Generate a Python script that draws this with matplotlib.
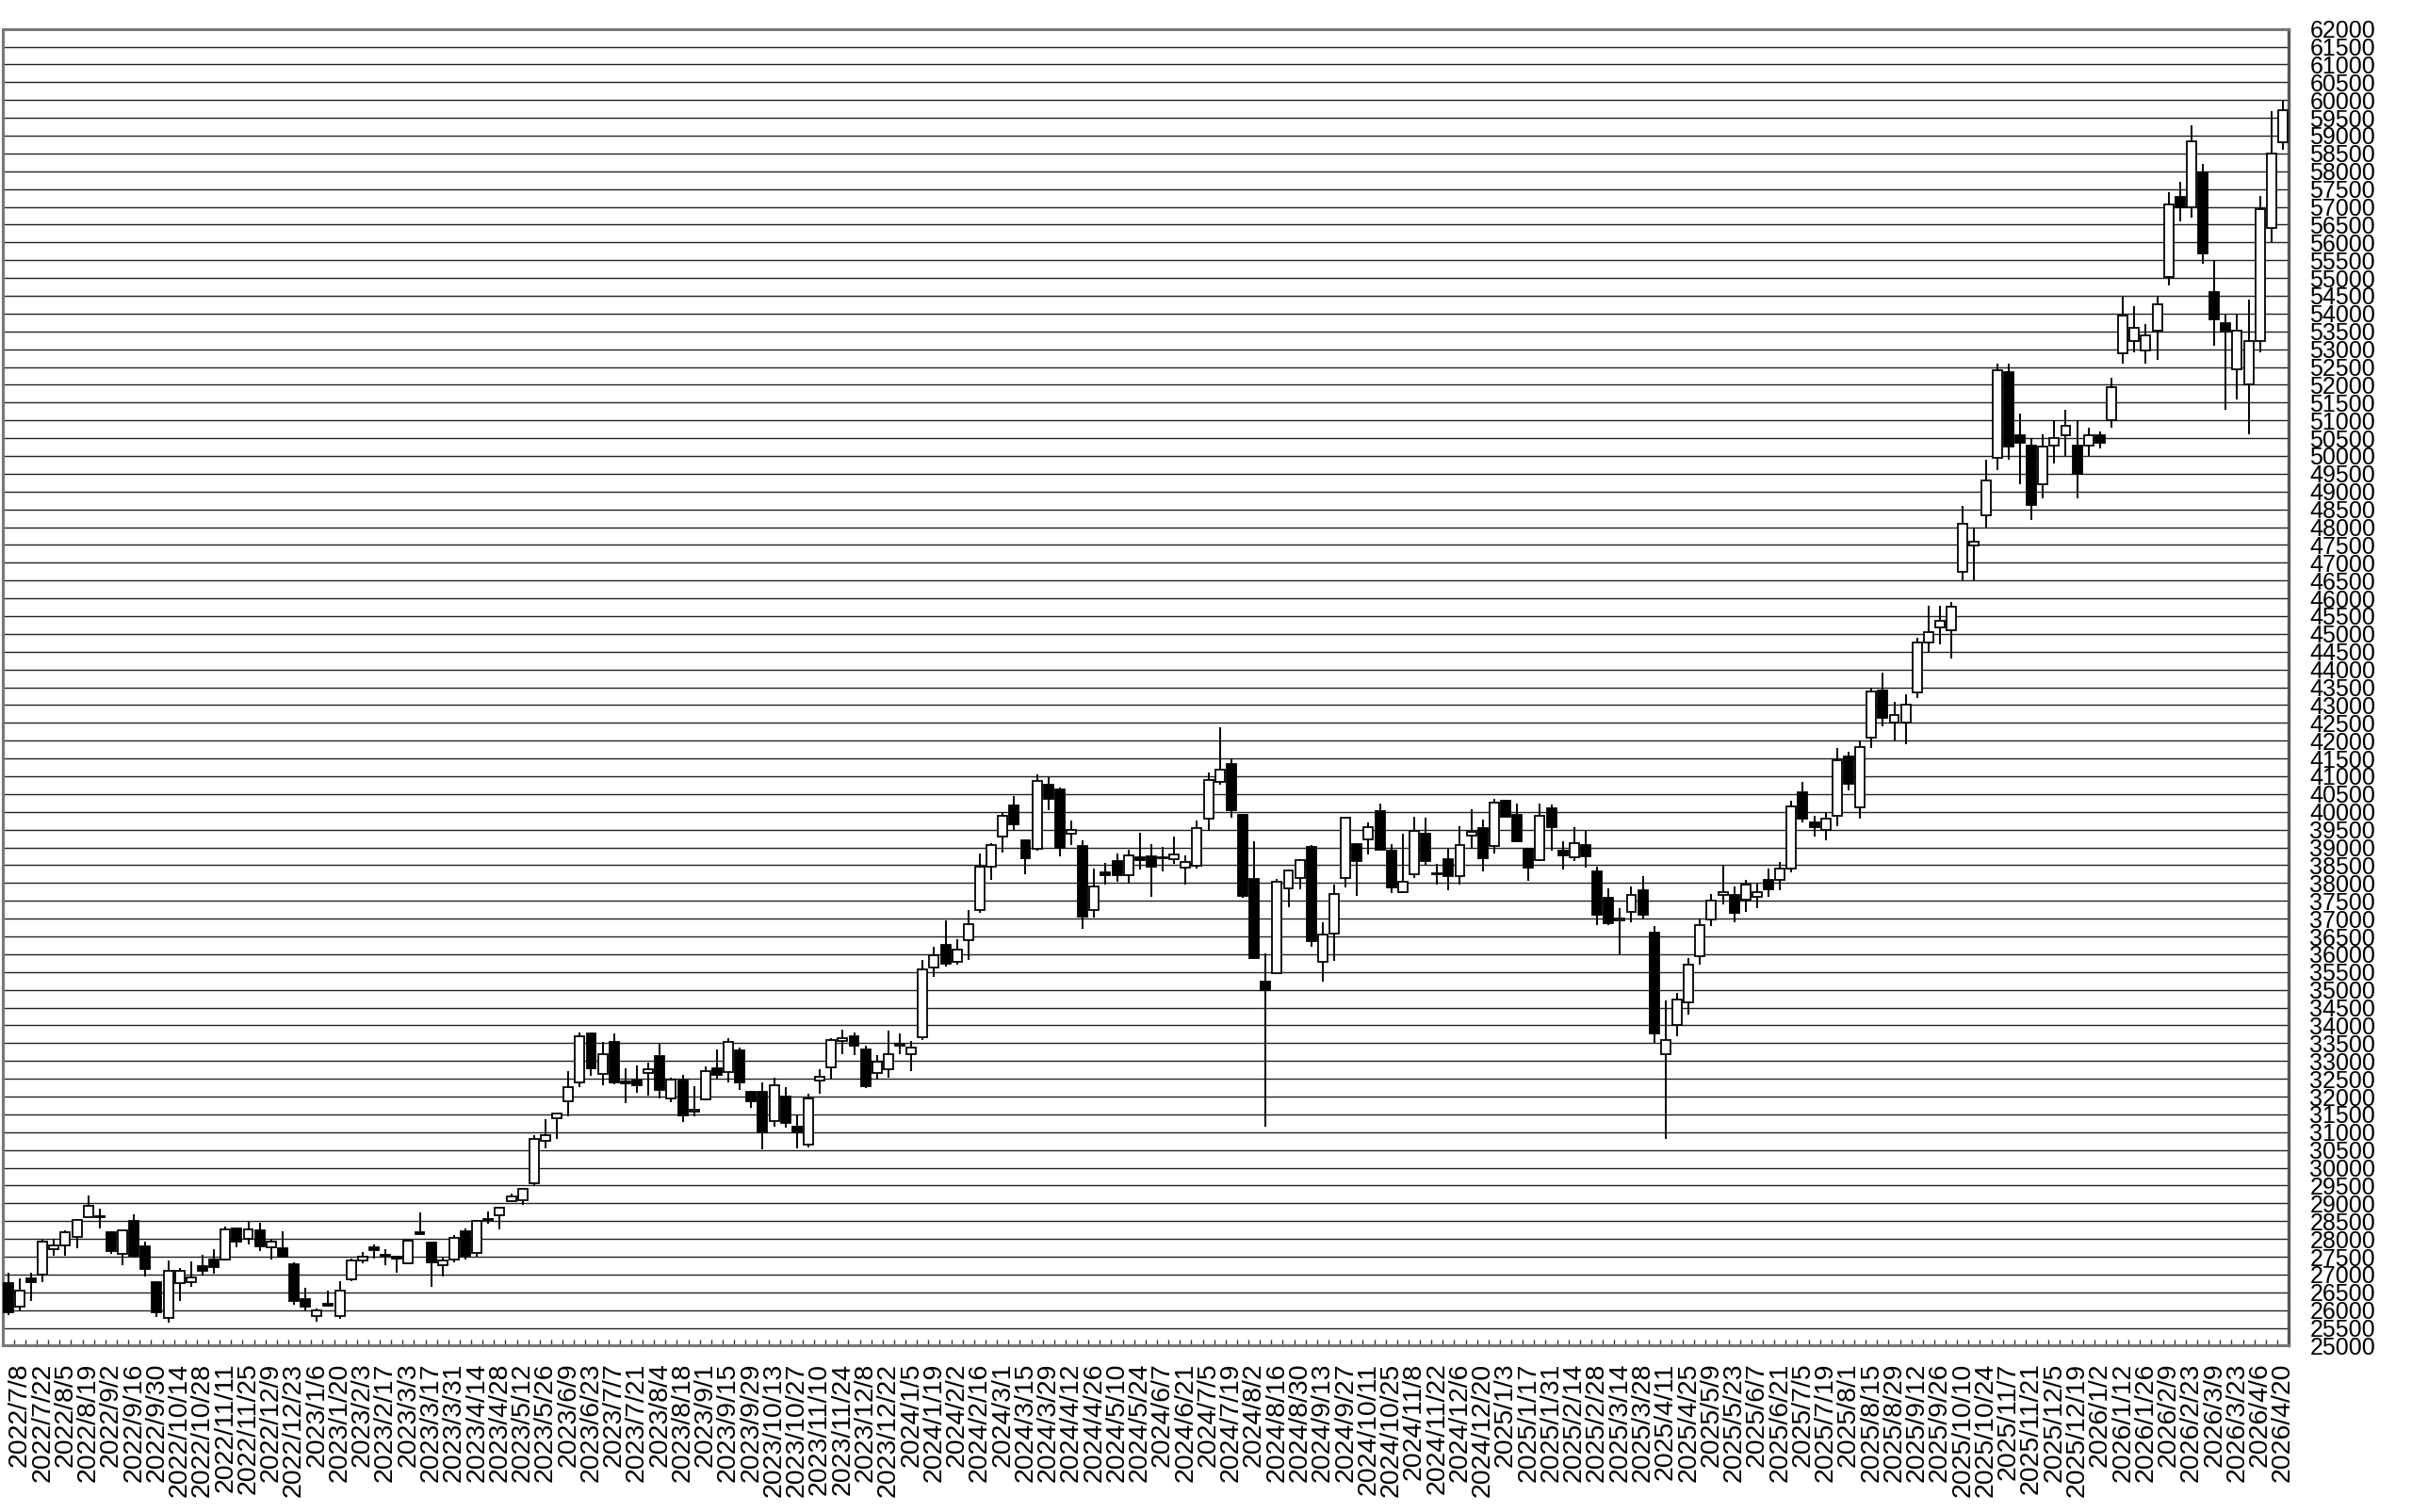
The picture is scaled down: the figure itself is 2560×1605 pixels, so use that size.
import matplotlib
matplotlib.use("Agg")
import matplotlib.pyplot as plt
import numpy as np

# ---- tick labels (every second weekly candle) ----
date_labels = [
    "2022/7/8", "2022/7/22", "2022/8/5", "2022/8/19", "2022/9/2", "2022/9/16", "2022/9/30",
    "2022/10/14", "2022/10/28", "2022/11/11", "2022/11/25", "2022/12/9", "2022/12/23",
    "2023/1/6", "2023/1/20", "2023/2/3", "2023/2/17", "2023/3/3", "2023/3/17", "2023/3/31",
    "2023/4/14", "2023/4/28", "2023/5/12", "2023/5/26", "2023/6/9", "2023/6/23", "2023/7/7",
    "2023/7/21", "2023/8/4", "2023/8/18", "2023/9/1", "2023/9/15", "2023/9/29", "2023/10/13",
    "2023/10/27", "2023/11/10", "2023/11/24", "2023/12/8", "2023/12/22",
    "2024/1/5", "2024/1/19", "2024/2/2", "2024/2/16", "2024/3/1", "2024/3/15", "2024/3/29",
    "2024/4/12", "2024/4/26", "2024/5/10", "2024/5/24", "2024/6/7", "2024/6/21", "2024/7/5",
    "2024/7/19", "2024/8/2", "2024/8/16", "2024/8/30", "2024/9/13", "2024/9/27", "2024/10/11",
    "2024/10/25", "2024/11/8", "2024/11/22", "2024/12/6", "2024/12/20",
    "2025/1/3", "2025/1/17", "2025/1/31", "2025/2/14", "2025/2/28", "2025/3/14", "2025/3/28",
    "2025/4/11", "2025/4/25", "2025/5/9", "2025/5/23", "2025/6/7", "2025/6/21", "2025/7/5",
    "2025/7/19", "2025/8/1", "2025/8/15", "2025/8/29", "2025/9/12", "2025/9/26", "2025/10/10",
    "2025/10/24", "2025/11/7", "2025/11/21", "2025/12/5", "2025/12/19",
    "2026/1/2", "2026/1/12", "2026/1/26", "2026/2/9", "2026/2/23", "2026/3/9", "2026/3/23",
    "2026/4/6", "2026/4/20",
]

# ---- weekly OHLC ----
opens = [
    26754, 26093, 26904, 27010, 27707, 27813, 28060, 28624, 28650, 28192,
    27583, 28501, 27795, 26798, 25775, 26772, 26798, 27231, 27425, 27425,
    28289, 28007, 28236, 27769, 27742, 27301, 26313, 25837, 26172, 25828,
    26878, 27389, 27760, 27557, 27504, 27310, 28183, 27901, 27266, 27420,
    28203, 27600, 28564, 28652, 29067, 29093, 29561, 30743, 31387, 31872,
    32401, 33768, 32639, 33530, 32418, 32463, 32666, 33133, 31942, 32463,
    31581, 31916, 32798, 32692, 33300, 32136, 32136, 31325, 32004, 31166,
    30654, 32463, 32824, 33574, 33706, 33327, 32666, 32771, 33433, 33195,
    33679, 35620, 36272, 35796, 36387, 37243, 38460, 39298, 40180, 39210,
    38963, 40771, 40621, 39386, 39033, 37243, 38301, 38610, 38213, 38724,
    38742, 38733, 38680, 38442, 38486, 39809, 40842, 41353, 39916, 38125,
    35224, 35462, 37843, 38152, 39007, 35797, 36582, 38152, 39104, 39228,
    40022, 38919, 37737, 38257, 39387, 38266, 38663, 38196, 39325, 39536,
    39051, 40313, 39907, 38972, 38637, 40092, 38919, 38725, 39078, 38328,
    37596, 36943, 37200, 37800, 36600, 33200, 34000, 34640, 35936, 36974,
    37665, 37665, 37535, 37600, 38098, 38098, 38400, 40561, 39696, 39480,
    39900, 41554, 40129, 42073, 43413, 42505, 42500, 43369, 44752, 45184,
    45098, 46739, 47474, 48338, 49936, 52356, 50585, 50282, 49202, 50282,
    50585, 50282, 50282, 50585, 51017, 52875, 53220, 52961, 53523, 55035,
    57281, 56979, 57973, 54603, 53739, 52443, 52011, 53220, 56417, 58816,
]
highs = [
    27063, 26887, 27063, 27989, 28007, 28254, 28562, 29224, 28853, 28210,
    28254, 28695, 27927, 26816, 27398, 27178, 27372, 27566, 27707, 28342,
    28307, 28518, 28448, 27971, 28210, 27345, 26622, 26049, 26560, 26825,
    27460, 27636, 27857, 27724, 27530, 27971, 28756, 27918, 27504, 28100,
    28300, 28520, 28767, 28890, 29270, 29420, 30919, 31360, 31563, 32710,
    33794, 33794, 33530, 33768, 32798, 32886, 32948, 33486, 32533, 32621,
    32295, 32860, 33327, 33636, 33371, 32154, 32401, 32533, 32269, 31475,
    32092, 32771, 33636, 33883, 33812, 33442, 33177, 33856, 33768, 33565,
    35832, 36211, 36960, 36414, 37252, 38839, 39121, 39959, 40444, 39227,
    41062, 40974, 40682, 39756, 39210, 38416, 38566, 38839, 38927, 39412,
    39095, 39007, 39315, 38769, 39756, 41106, 42385, 41503, 39942, 39166,
    36034, 38108, 38390, 38681, 39060, 36891, 37958, 39845, 39122, 39695,
    40224, 39096, 39387, 39854, 39827, 38549, 38990, 39607, 40066, 39784,
    40357, 40330, 40242, 38990, 40242, 40198, 39166, 39563, 39475, 38460,
    37861, 37296, 37900, 38200, 36800, 34700, 34900, 35900, 37000, 37700,
    38500, 37900, 38100, 38000, 38400, 38600, 40300, 40850, 39900, 40000,
    41800, 41700, 42000, 43500, 43900, 43100, 43300, 44900, 45800, 45800,
    45900, 48600, 48000, 49900, 52600, 52600, 51200, 50500, 50600, 51000,
    51300, 51000, 50800, 50700, 52200, 54500, 54200, 53700, 54500, 57400,
    57700, 59300, 58200, 55500, 54000, 54000, 54400, 57300, 59690, 59980,
]
lows = [
    25872, 25960, 26269, 26798, 27522, 27522, 27742, 28624, 28298, 27592,
    27266, 27513, 26948, 25802, 25634, 26252, 26666, 26975, 27019, 27407,
    27769, 27848, 27654, 27433, 27513, 26137, 25960, 25678, 26110, 25766,
    26825, 27328, 27442, 27266, 27063, 27284, 28130, 26648, 26948, 27350,
    27430, 27500, 28432, 28255, 29032, 28944, 29490, 30549, 30796, 31431,
    32269, 32595, 32313, 32357, 31828, 32119, 32030, 31960, 31845, 31298,
    31431, 31889, 32507, 32401, 32180, 31678, 30505, 31166, 31122, 30549,
    30566, 32092, 32507, 33195, 33177, 32242, 32507, 32533, 33195, 32710,
    33591, 35355, 35655, 35708, 35840, 37154, 38081, 38857, 39492, 38257,
    38918, 40047, 38751, 39077, 36722, 37031, 37948, 38036, 37975, 38372,
    37622, 38327, 38548, 37948, 38416, 39474, 40771, 39828, 37596, 35885,
    31140, 35462, 37331, 37826, 36211, 35241, 35814, 37869, 37640, 38813,
    38901, 37711, 37737, 38152, 38505, 37949, 37799, 37949, 38972, 38328,
    38840, 39854, 39148, 38063, 38637, 38901, 38390, 38619, 38443, 36829,
    36829, 35991, 36900, 37000, 33500, 30800, 33700, 34300, 35700, 36800,
    37400, 36900, 37200, 37300, 37600, 37800, 38300, 39700, 39300, 39200,
    39600, 40600, 39800, 41800, 42400, 42000, 41900, 43200, 44500, 44700,
    44300, 46500, 46500, 48000, 49600, 49900, 49200, 48200, 48800, 49800,
    50000, 48800, 50000, 50200, 50800, 52600, 52900, 52600, 52700, 54800,
    56600, 56700, 55400, 53100, 51300, 51600, 50600, 52900, 56000, 58604,
]
closes = [
    25934, 26534, 26798, 27918, 27813, 28183, 28545, 28942, 28624, 27654,
    28236, 27530, 27169, 25934, 27107, 27107, 26913, 27107, 27213, 28262,
    27918, 28280, 27786, 27918, 27513, 26243, 26084, 25987, 26128, 26560,
    27398, 27513, 27680, 27522, 27451, 27945, 28139, 27345, 27389, 28030,
    27518, 28494, 28538, 28873, 29182, 29402, 30813, 30919, 31519, 32269,
    33706, 32798, 33195, 32401, 32383, 32313, 32771, 32198, 32489, 31475,
    31634, 32710, 32621, 33530, 32401, 31872, 31007, 32330, 31272, 31007,
    31960, 32560, 33592, 33636, 33442, 32295, 32992, 33195, 33486, 33371,
    35567, 35964, 35726, 36140, 36855, 38460, 39077, 39889, 39651, 38698,
    40859, 40374, 38989, 39501, 37049, 37904, 38231, 38213, 38769, 38636,
    38460, 38707, 38795, 38583, 39545, 40885, 41177, 40048, 37640, 35903,
    35003, 38046, 38355, 38637, 36370, 36546, 37693, 39827, 38610, 39581,
    38945, 37887, 38037, 39475, 38619, 38249, 38196, 39078, 39448, 38698,
    40251, 39872, 39166, 38434, 39898, 39563, 38769, 39122, 38743, 37120,
    36873, 37005, 37677, 37120, 33780, 33585, 34730, 35705, 36830, 37503,
    37753, 37160, 37965, 37741, 37834, 38403, 40150, 39810, 39569, 39819,
    41456, 40800, 41820, 43378, 42633, 42718, 43018, 44768, 45045, 45355,
    45769, 48088, 47582, 49299, 52411, 50276, 50376, 48625, 50253, 50491,
    50836, 49507, 50585, 50369, 51924, 53955, 53609, 53393, 54257, 57065,
    56979, 58837, 55683, 53825, 53523, 53523, 53220, 56936, 58491, 59716,
]

plt.rcParams["font.family"] = ["Liberation Sans", "DejaVu Sans"]

fig = plt.figure(figsize=(25.6, 16.05), dpi=100)
ax = fig.add_axes([0.00105, 0.11, 0.9478, 0.8709])

n = len(opens)
x = np.arange(n)
o = np.array(opens, float)
h = np.array(highs, float)
l = np.array(lows, float)
c = np.array(closes, float)

# gridlines
ax.set_ylim(25000, 62000)
ax.set_yticks(np.arange(25000, 62001, 500))
ax.yaxis.grid(True, color="#222222", linewidth=1.0, zorder=0)
ax.set_axisbelow(True)

# wicks
ax.vlines(x, l, h, color="black", linewidth=1.4, zorder=2)
# bodies
up = c >= o
bottoms = np.minimum(o, c)
heights = np.abs(c - o)
ax.bar(x[up], heights[up], bottom=bottoms[up], width=0.82, color="white",
       edgecolor="black", linewidth=1.3, zorder=3)
ax.bar(x[~up], heights[~up], bottom=bottoms[~up], width=0.82, color="black",
       edgecolor="black", linewidth=1.3, zorder=3)

ax.set_xlim(-0.5, n - 0.5)

# x axis
label_pos = np.arange(1, n, 2)
ax.set_xticks(label_pos)
ax.set_xticklabels(date_labels, rotation=90, fontsize=20.5, va="top", ha="center")
ax.tick_params(axis="x", which="major", length=0, pad=13)
ax.set_xticks(np.arange(-0.5, n, 1.0), minor=True)
ax.tick_params(axis="x", which="minor", direction="in", length=4.5, width=1.0,
               color="#333333")

# y axis on right
ax.yaxis.tick_right()
ax.tick_params(axis="y", which="major", length=0, pad=16, labelsize=18)
ax.set_yticklabels([str(v) for v in range(25000, 62001, 500)])

for side in ["left", "bottom", "top"]:
    ax.spines[side].set_color("#777777")
    ax.spines[side].set_linewidth(2.2)
ax.spines["right"].set_color("#555555")
ax.spines["right"].set_linewidth(2.4)

fig.savefig("out.png", dpi=100, facecolor="white")
